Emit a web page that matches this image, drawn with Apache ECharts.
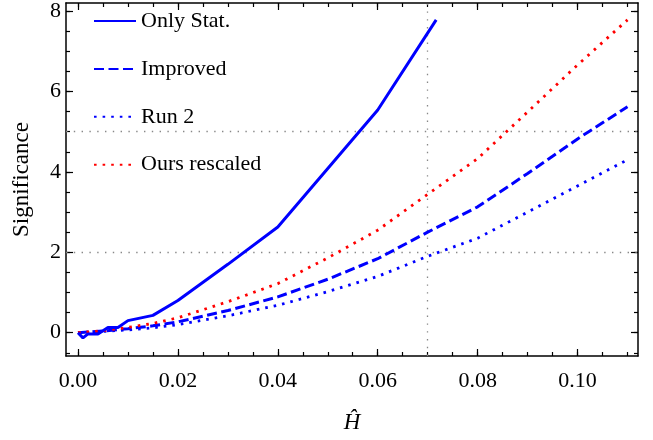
<!DOCTYPE html>
<html lang="en">
<head>
    <meta charset="UTF-8">
    <title>Significance</title>
    <script src="https://cdn.jsdelivr.net/npm/echarts@6/dist/echarts.min.js"></script>
</head>
<body style="margin:0">

<div id="main" style="width: 653px;height:440px;"></div>

<script type="text/javascript">
    // data
    var onlyStatX = [0, 0.001, 0.002, 0.004, 0.006, 0.008, 0.010, 0.015, 0.020, 0.030, 0.040, 0.060, 0.0717];
    var onlyStatY = [0, -0.13, -0.03, -0.03, 0.13, 0.13, 0.30, 0.43, 0.80, 1.70, 2.63, 5.54, 7.78];

    var hatX      = [0, 0.005, 0.01, 0.015, 0.02, 0.03, 0.04, 0.05, 0.06, 0.07, 0.08, 0.09, 0.10, 0.11];
    var improved  = [0, 0.04, 0.10, 0.17, 0.27, 0.55, 0.89, 1.33, 1.84, 2.50, 3.13, 3.96, 4.82, 5.62];
    var run2      = [0, 0.03, 0.07, 0.12, 0.20, 0.42, 0.68, 1.02, 1.40, 1.90, 2.35, 3.00, 3.65, 4.30];
    var oursResc  = [0, 0.05, 0.13, 0.23, 0.37, 0.77, 1.22, 1.86, 2.55, 3.44, 4.33, 5.49, 6.66, 7.78];

    var xTicks = [0, 0.02, 0.04, 0.06, 0.08, 0.10];
    var xMinor = [0, 0.005, 0.01, 0.015, 0.02, 0.025, 0.03, 0.035, 0.04, 0.045, 0.05, 0.055,
                  0.06, 0.065, 0.07, 0.075, 0.08, 0.085, 0.09, 0.095, 0.10, 0.105, 0.11];
    var yTicks = [0, 2, 4, 6, 8];
    var yMinor = [-0.5, 0, 0.5, 1, 1.5, 2, 2.5, 3, 3.5, 4, 4.5, 5, 5.5, 6, 6.5, 7, 7.5, 8];

    var refY = [2, 5];      // horizontal reference lines
    var refX = [0.0705];    // vertical reference line

    function pairs(xs, ys) {
        var out = [];
        for (var i = 0; i < xs.length; i++) out.push([xs[i], ys[i]]);
        return out;
    }

    var FONT = 'Liberation Serif';
    var xMin = -0.0024, xMax = 0.1121, yMin = -0.58, yMax = 8.2;

    function xAx(pos, ticks, len, showLine, showLabel) {
        return {
            type: 'value', position: pos, min: xMin, max: xMax,
            axisLine: {show: showLine, onZero: false, lineStyle: {color: '#000', width: 1.5}},
            axisTick: {show: true, inside: true, length: len, customValues: ticks,
                       lineStyle: {color: '#000', width: 1.2}},
            axisLabel: {show: showLabel, customValues: ticks, margin: 14,
                        fontFamily: FONT, fontSize: 22, color: '#000',
                        formatter: function (v) { return v.toFixed(2); }},
            splitLine: {show: false}
        };
    }
    function yAx(pos, ticks, len, showLine, showLabel) {
        return {
            type: 'value', position: pos, min: yMin, max: yMax,
            axisLine: {show: showLine, onZero: false, lineStyle: {color: '#000', width: 1.5}},
            axisTick: {show: true, inside: true, length: len, customValues: ticks,
                       lineStyle: {color: '#000', width: 1.2}},
            axisLabel: {show: showLabel, customValues: ticks, margin: 5,
                        fontFamily: FONT, fontSize: 22, color: '#000'},
            splitLine: {show: false}
        };
    }

    var xAxes = [
        xAx('bottom', xTicks, 7, true, true),
        xAx('bottom', xMinor, 4, false, false),
        xAx('top', xTicks, 7, true, false),
        xAx('top', xMinor, 4, false, false)
    ];
    xAxes[0].name = '\u0124';
    xAxes[0].nameLocation = 'middle';
    xAxes[0].nameGap = 55;
    xAxes[0].nameTextStyle = {fontFamily: FONT, fontSize: 23, fontStyle: 'italic', color: '#000'};

    var yAxes = [
        yAx('left', yTicks, 7, true, true),
        yAx('left', yMinor, 4, false, false),
        yAx('right', yTicks, 7, true, false),
        yAx('right', yMinor, 4, false, false)
    ];
    yAxes[0].name = 'Significance';
    yAxes[0].nameLocation = 'middle';
    yAxes[0].nameGap = 33;
    yAxes[0].nameTextStyle = {fontFamily: FONT, fontSize: 23, color: '#000'};

    var refData = [];
    refY.forEach(function (v) { refData.push({yAxis: v}); });
    refX.forEach(function (v) { refData.push({xAxis: v}); });

    var myChart = echarts.init(document.getElementById('main'));

    var option = {
        animation: false,
        backgroundColor: '#fff',
        grid: {left: 66, right: 15, top: 3, bottom: 84},
        legend: {
            orient: 'vertical',
            left: 93, top: 10,
            padding: 0,
            itemWidth: 42, itemHeight: 20, itemGap: 25.9,
            itemStyle: {opacity: 0},
            textStyle: {fontFamily: FONT, fontSize: 22, color: '#000'},
            data: ['Only Stat.', 'Improved', 'Run 2', 'Ours rescaled']
        },
        xAxis: xAxes,
        yAxis: yAxes,
        series: [
            {
                name: 'Only Stat.', type: 'line', symbol: 'none',
                data: pairs(onlyStatX, onlyStatY),
                lineStyle: {color: '#0000ff', width: 3},
                itemStyle: {color: '#0000ff'},
                z: 5,
                markLine: {
                    silent: true, symbol: ['none', 'none'],
                    label: {show: false},
                    lineStyle: {color: '#888', type: [1.4, 6.4], width: 1.3},
                    data: refData,
                    z: 1
                }
            },
            {
                name: 'Improved', type: 'line', symbol: 'none',
                data: pairs(hatX, improved),
                lineStyle: {color: '#0000ff', width: 3, type: [10, 4.5]},
                itemStyle: {color: '#0000ff'},
                z: 4
            },
            {
                name: 'Run 2', type: 'line', symbol: 'none',
                data: pairs(hatX, run2),
                lineStyle: {color: '#0000ff', width: 2.8, type: [2.6, 6]},
                itemStyle: {color: '#0000ff'},
                z: 4
            },
            {
                name: 'Ours rescaled', type: 'line', symbol: 'none',
                data: pairs(hatX, oursResc),
                lineStyle: {color: '#ff0000', width: 2.8, type: [2.6, 6]},
                itemStyle: {color: '#ff0000'},
                z: 4
            }
        ]
    };
    myChart.setOption(option);
</script>
</body>
</html>
